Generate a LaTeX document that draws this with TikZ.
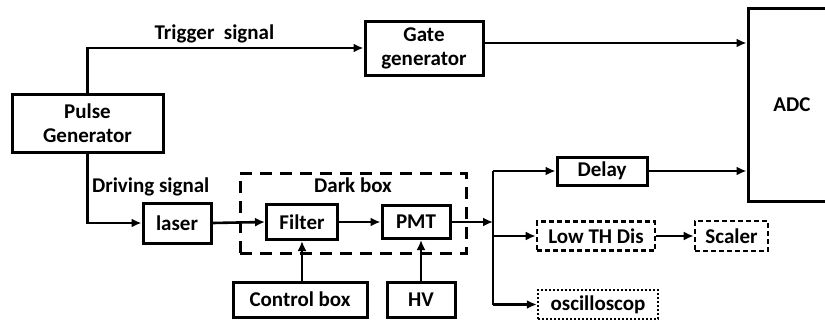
\documentclass[tikz,border=0pt]{standalone}
\usepackage{fontspec}
\setmainfont{Carlito}
\usetikzlibrary{arrows.meta,positioning,calc}

\begin{document}
\begin{tikzpicture}[x=1pt,y=-1pt,
  font=\fontsize{21}{24}\selectfont\bfseries,
  blk/.style={draw,line width=3pt,inner sep=0pt,align=center},
  dblk/.style={blk,line width=2.6pt,dash pattern=on 5pt off 3pt},
  oblk/.style={blk,line width=2.4pt,dash pattern=on 2pt off 2pt},
  sig/.style={line width=2.6pt,-{Latex[length=10pt,width=9pt]}},
  wire/.style={line width=2.6pt}]
  \useasboundingbox (0,0) rectangle (825,324);
  \node[blk,minimum width=151pt,minimum height=58pt] (pulse) at (87.5,123) {Pulse\\Generator};
  \node[blk,minimum width=118pt,minimum height=54pt] (gate) at (424,48) {Gate\\generator};
  \node[blk,minimum width=88pt,minimum height=193pt] (adc) at (792,104.5) {ADC};
  \node[blk,minimum width=90pt,minimum height=28pt] (delay) at (602,171) {Delay};
  \node[blk,minimum width=68pt,minimum height=40pt] (laser) at (177,223) {laser};
  \node[draw,line width=3pt,dash pattern=on 12pt off 8pt,minimum width=226pt,minimum height=80pt,
    label={[anchor=north,yshift=-3pt]north:Dark box}] (dark) at (353,213) {};
  \node[blk,minimum width=71pt,minimum height=35pt] (filter) at (302,222) {Filter};
  \node[blk,minimum width=68pt,minimum height=33pt] (pmt) at (416,222) {PMT};
  \node[blk,minimum width=134pt,minimum height=35pt] (ctrl) at (300,299.5) {Control box};
  \node[blk,minimum width=68pt,minimum height=35pt] (hv) at (421,299.5) {HV};
  \node[dblk,minimum width=118pt,minimum height=29pt] (lowth) at (596,236) {Low TH Dis};
  \node[dblk,minimum width=73pt,minimum height=30pt] (scaler) at (731.5,236) {Scaler};
  \node[oblk,minimum width=120pt,minimum height=29pt] (osc) at (598,304.5) {oscilloscop};
  \coordinate (split) at (493,222);

  \draw[sig] (pulse.north) |- node[above,pos=0.73]{Trigger\ \ signal} (gate.west);
  \draw[sig] ([yshift=5pt]gate.east) -- ([yshift=5pt]gate.east -| adc.west);
  \draw[sig] (delay.east) -- (delay.east -| adc.west);
  \draw[sig] (pulse.south) |- node[right,pos=0.24]{Driving signal} (laser.west);
  \draw[sig] (laser.east) -- (filter.west);
  \draw[sig] (filter.east) -- (pmt.west);
  \draw[sig] (filter.south |- ctrl.north) -- (filter.south);
  \draw[sig] (hv.north) -- (hv.north |- pmt.south);
  \draw[sig] (pmt.east) -- (split);
  \draw[wire] (split |- delay.west) -- (split |- osc.west);
  \draw[sig] (split |- delay.west) -- (delay.west);
  \draw[sig] (split |- lowth.west) -- (lowth.west);
  \draw[sig] (split |- osc.west) -- (osc.west);
  \draw[sig] (lowth.east) -- (scaler.west);
\end{tikzpicture}
\end{document}
